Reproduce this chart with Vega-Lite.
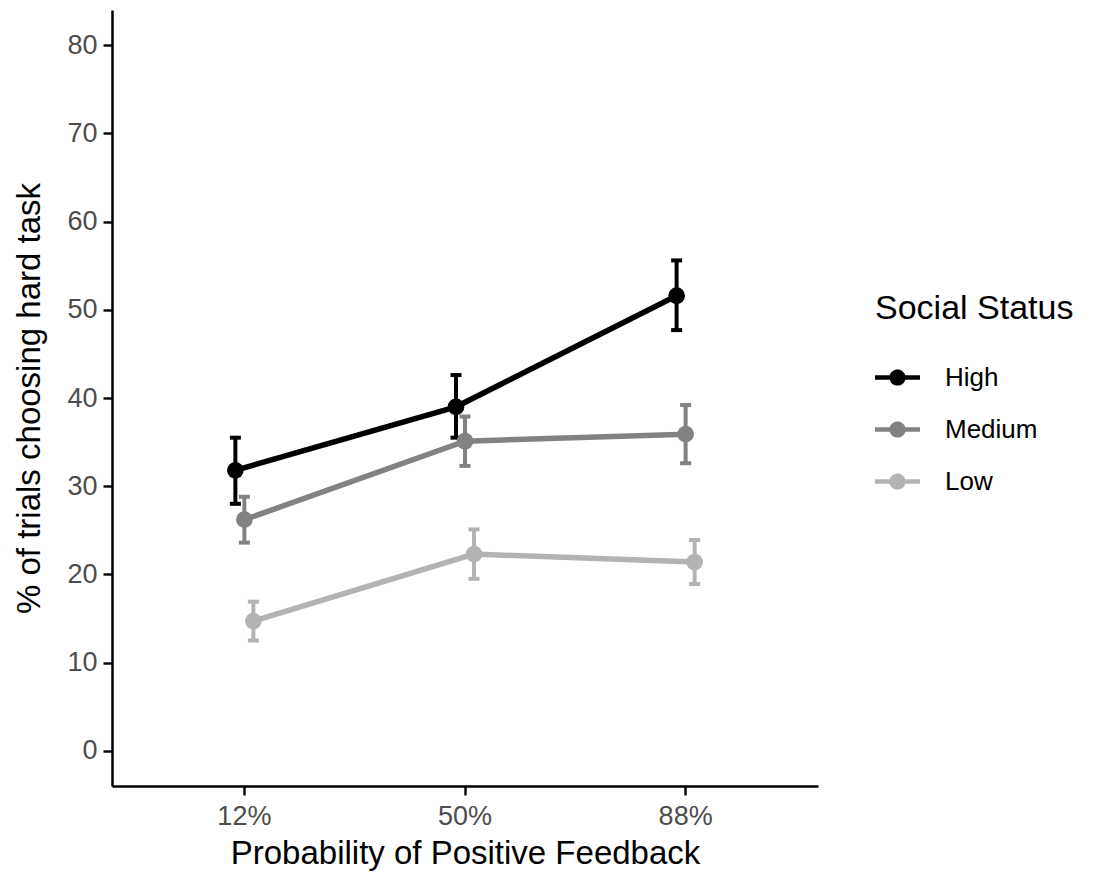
{
  "$schema": "https://vega.github.io/schema/vega-lite/v6.json",
  "width": 706,
  "height": 776,
  "autosize": "none",
  "padding": {"left": 112, "top": 10, "right": 292, "bottom": 92},
  "background": "white",
  "config": {
    "font": "Liberation Sans",
    "view": {"stroke": null},
    "axis": {"grid": false, "domainColor": "black", "domainWidth": 2.5, "tickColor": "black", "tickWidth": 2.4, "tickSize": 9, "labelColor": "#4d4d4d", "labelFontSize": 27, "titleFontSize": 33, "titleFontWeight": "normal", "titleColor": "black", "labelPadding": 6}
  },
  "data": {
    "values": [
      {"prob": "12%", "status": "High", "mean": 31.8, "lo": 28.0, "hi": 35.5},
      {"prob": "50%", "status": "High", "mean": 39.0, "lo": 35.5, "hi": 42.6},
      {"prob": "88%", "status": "High", "mean": 51.6, "lo": 47.7, "hi": 55.6},
      {"prob": "12%", "status": "Medium", "mean": 26.2, "lo": 23.6, "hi": 28.8},
      {"prob": "50%", "status": "Medium", "mean": 35.1, "lo": 32.3, "hi": 37.9},
      {"prob": "88%", "status": "Medium", "mean": 35.9, "lo": 32.6, "hi": 39.2},
      {"prob": "12%", "status": "Low", "mean": 14.7, "lo": 12.5, "hi": 16.9},
      {"prob": "50%", "status": "Low", "mean": 22.3, "lo": 19.5, "hi": 25.1},
      {"prob": "88%", "status": "Low", "mean": 21.4, "lo": 18.9, "hi": 23.9}
    ]
  },
  "encoding": {
    "x": {"field": "prob", "type": "nominal", "sort": ["12%", "50%", "88%"],
      "scale": {"type": "band", "domain": ["12%", "50%", "88%"], "paddingInner": 0.9184, "paddingOuter": 0.5592},
      "axis": {"title": "Probability of Positive Feedback", "labelAngle": 0, "labelPadding": 8, "titlePadding": 8}},
    "xOffset": {"field": "status", "type": "nominal", "scale": {"type": "point", "domain": ["High", "Medium", "Low"], "padding": 0}},
    "color": {"field": "status", "type": "nominal",
      "scale": {"domain": ["High", "Medium", "Low"], "range": ["#000000", "#828282", "#B3B3B3"]},
      "legend": {"title": "Social Status", "orient": "none", "legendX": 763, "legendY": 282, "padding": 0,
        "titleFontSize": 34, "titleFontWeight": "normal", "titleColor": "black", "titlePadding": 29, "titleLimit": 500,
        "labelFontSize": 26, "labelColor": "black", "labelOffset": 25, "rowPadding": 16, "labelLimit": 300,
        "symbolType": "M-1,-0.1 L-0.346,-0.1 A0.36,0.36 0 0,1 0.346,-0.1 L1,-0.1 L1,0.1 L0.346,0.1 A0.36,0.36 0 0,1 -0.346,0.1 L-1,0.1 Z",
        "symbolSize": 2025, "symbolStrokeWidth": 0, "symbolOpacity": 1,
        "encode": {"symbols": {"update": {"fill": {"scale": "color", "field": "value"}, "strokeWidth": {"value": 0}, "opacity": {"value": 1}}}}}}
  },
  "layer": [
    {
      "mark": {"type": "line", "strokeWidth": 5.5},
      "encoding": {
        "y": {"field": "mean", "type": "quantitative",
          "scale": {"domain": [-4, 84], "nice": false, "zero": false},
          "axis": {"title": "% of trials choosing hard task", "values": [0, 10, 20, 30, 40, 50, 60, 70, 80], "titlePadding": 20}}
      }
    },
    {
      "mark": {"type": "rule", "strokeWidth": 4},
      "encoding": {
        "y": {"field": "lo", "type": "quantitative"},
        "y2": {"field": "hi"}
      }
    },
    {
      "mark": {"type": "tick", "size": 11, "thickness": 4, "orient": "horizontal", "opacity": 1},
      "encoding": {
        "y": {"field": "lo", "type": "quantitative"}
      }
    },
    {
      "mark": {"type": "tick", "size": 11, "thickness": 4, "orient": "horizontal", "opacity": 1},
      "encoding": {
        "y": {"field": "hi", "type": "quantitative"}
      }
    },
    {
      "mark": {"type": "point", "filled": true, "size": 280, "opacity": 1},
      "encoding": {
        "y": {"field": "mean", "type": "quantitative"}
      }
    }
  ]
}
